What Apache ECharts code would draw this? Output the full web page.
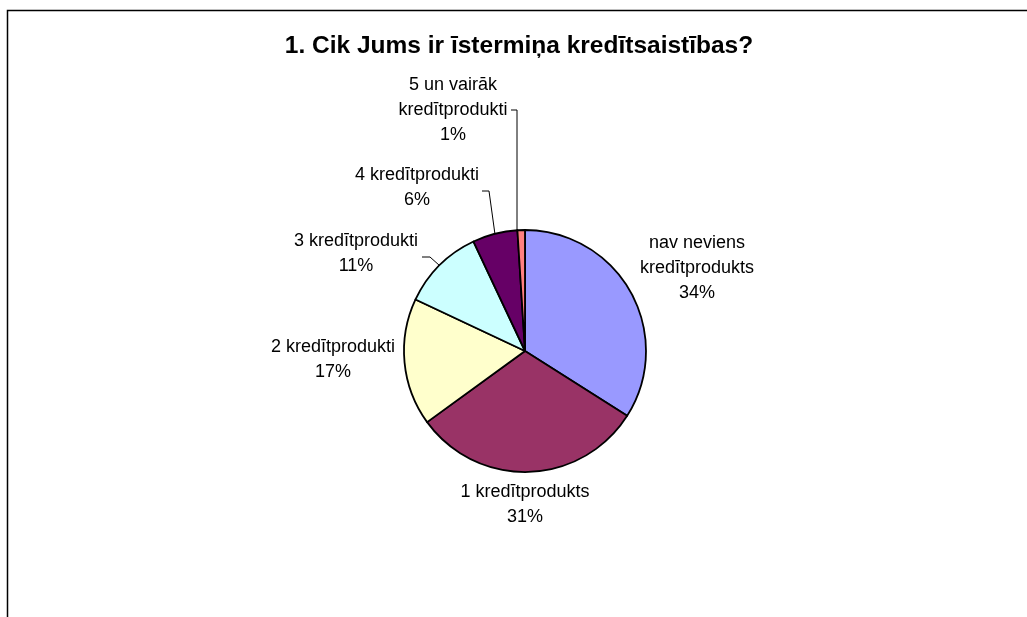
<!DOCTYPE html>
<html><head><meta charset="utf-8">
<script src="https://cdn.jsdelivr.net/npm/echarts@6/dist/echarts.min.js"></script>
<style>html,body{margin:0;padding:0;background:#fff}#c{width:1027px;height:617px}</style>
</head><body><div id="c"></div>
<script>
const title = '1. Cik Jums ir īstermiņa kredītsaistības?';
const categories = ['nav neviens\nkredītprodukts', '1 kredītprodukts', '2 kredītprodukti', '3 kredītprodukti', '4 kredītprodukti', '5 un vairāk\nkredītprodukti'];
const values = [34, 31, 17, 11, 6, 1];
const colors = ['#9999FF', '#993366', '#FFFFCC', '#CCFFFF', '#660066', '#FF8080'];
// label block centres and leader-line elbows/ends (styling)
const labelPos = [[697, 268], [525, 505], [333, 360], [356, 254], [417, 188], [453, 110]];
const guide = [null, null, null, [[430, 257], [422, 257]], [[489, 191], [482, 191]], [[517, 110], [511, 110]]];

const chart = echarts.init(document.getElementById('c'));
chart.setOption({
  backgroundColor: '#fff',
  animation: false,
  title: {
    text: title, left: 514, top: 29, textAlign: 'center',
    textStyle: {fontFamily: 'Liberation Sans', fontSize: 24.5, fontWeight: 'bold', color: '#000'}
  },
  graphic: [{
    type: 'rect', shape: {x: 7.5, y: 10.5, width: 1200, height: 800},
    style: {fill: 'none', stroke: '#000', lineWidth: 1.5}, silent: true
  }],
  series: [{
    type: 'pie',
    center: [525, 351],
    radius: 121,
    startAngle: 90,
    clockwise: true,
    itemStyle: {borderColor: '#000', borderWidth: 1.8},
    label: {
      show: true, formatter: '{b}\n{d}%',
      fontFamily: 'Liberation Sans', fontSize: 18, color: '#000',
      lineHeight: 25, align: 'center'
    },
    labelLine: {show: true, length: 10, length2: 10, lineStyle: {color: '#000', width: 1}},
    labelLayout: function (p) {
      const i = p.dataIndex;
      const pos = labelPos[i];
      const out = {x: pos[0], y: pos[1], align: 'center', verticalAlign: 'middle'};
      if (guide[i] && p.labelLinePoints) {
        const a = p.labelLinePoints[0];
        const sx = i === 5 ? guide[i][0][0] : a[0];
        out.labelLinePoints = [[sx, a[1]], guide[i][0], guide[i][1]];
      }
      return out;
    },
    emphasis: {disabled: true},
    data: categories.map((c, i) => ({
      name: c, value: values[i],
      itemStyle: {color: colors[i]},
      labelLine: {show: guide[i] !== null}
    }))
  }]
});
</script></body></html>
